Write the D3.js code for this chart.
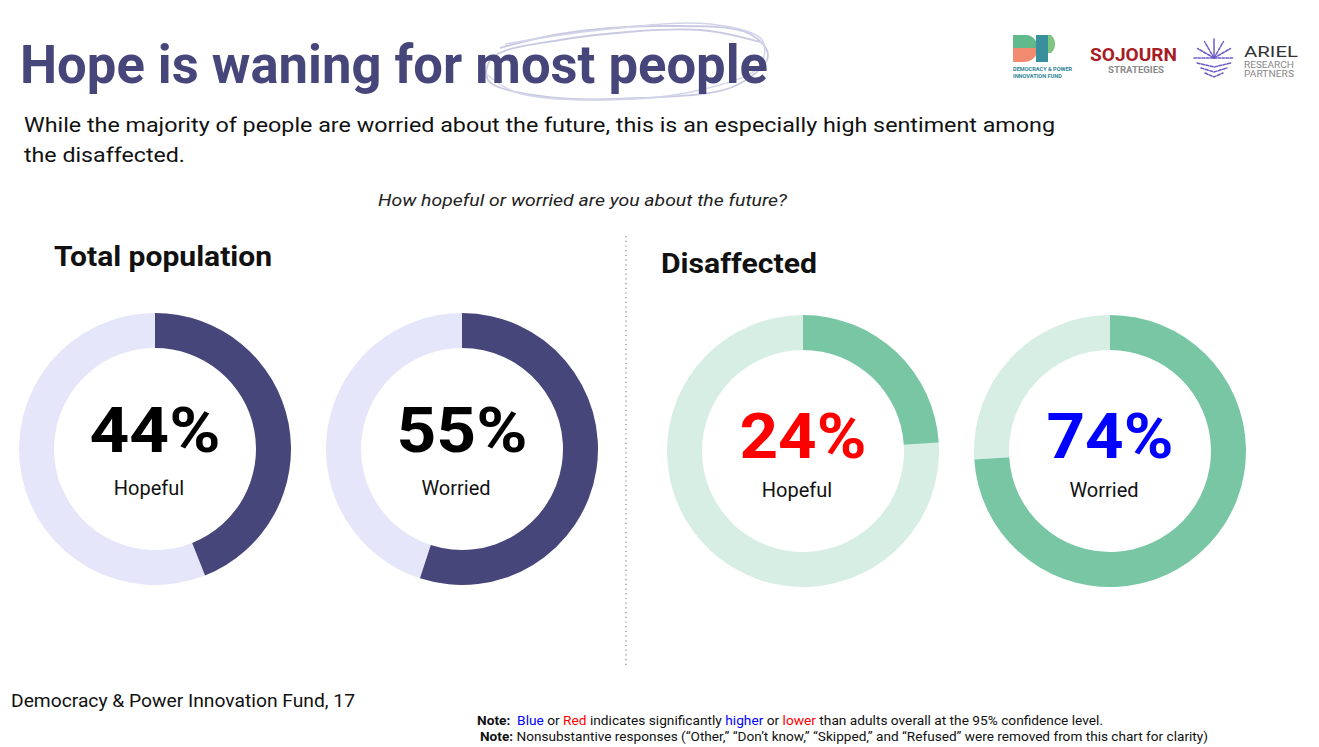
<!DOCTYPE html>
<html>
<head>
<meta charset="utf-8">
<script src="https://cdn.jsdelivr.net/npm/d3@7"></script>
<style>
  html, body { margin: 0; padding: 0; background: #fff; }
  svg { display: block; }
  text { font-family: Roboto, "Noto Sans", sans-serif; }
</style>
</head>
<body>
<div id="chart"></div>
<script>
/* Hope vs worry donuts — D3 */

const groups      = ["Total population", "Disaffected"];
const answers     = ["Hopeful", "Worried"];
const totalValues = [44, 55];
const disValues   = [24, 74];
// significance flag per value: 0 = none, 1 = higher, -1 = lower
const disSignif   = [-1, 1];

const W = 1319, H = 747;
const DARK = "#46467a", LIGHT = "#e6e6fa";
const GREEN = "#78c6a4", GREEN_LIGHT = "#d7eee5";

const svg = d3.select("#chart").append("svg")
  .attr("width", W).attr("height", H);

// fit a text element to a target width
function fit(sel, w) { sel.attr("textLength", w).attr("lengthAdjust", "spacingAndGlyphs"); return sel; }

// Title + scribble
const scribble = d3.line().curve(d3.curveCatmullRom);
const loop1 = [[500,48],[560,34],[660,26],[750,34],[768,56],[735,86],[640,98],[540,96],[488,80],[492,58],[560,40],[700,30],[760,42]];
const loop2 = [[505,44],[600,30],[710,24],[762,40],[760,66],[700,90],[600,100],[515,92],[484,72]];
svg.append("path").attr("d", scribble(loop1))
  .attr("fill", "none").attr("stroke", "#c9cae2").attr("stroke-width", 1.8);
svg.append("path").attr("d", scribble(loop2))
  .attr("fill", "none").attr("stroke", "#d3d4ea").attr("stroke-width", 1.5);

fit(svg.append("text").attr("x", 20).attr("y", 83)
  .attr("font-size", 54).attr("font-weight", 700).attr("fill", DARK)
  .text("Hope is waning for most people"), 748);

fit(svg.append("text").attr("x", 24).attr("y", 132).attr("font-size", 21).attr("fill", "#111")
  .text("While the majority of people are worried about the future, this is an especially high sentiment among"), 1031);
fit(svg.append("text").attr("x", 24).attr("y", 162).attr("font-size", 21).attr("fill", "#111")
  .text("the disaffected."), 161);

fit(svg.append("text").attr("x", 378).attr("y", 206).attr("font-size", 17)
  .attr("font-style", "italic").attr("fill", "#222")
  .text("How hopeful or worried are you about the future?"), 409);

// group headings
const headX = d3.scaleOrdinal(groups, [54, 661]);
const headY = d3.scaleOrdinal(groups, [266, 273]);
const headW = d3.scaleOrdinal(groups, [218, 156]);
groups.forEach(gname => {
  fit(svg.append("text").attr("x", headX(gname)).attr("y", headY(gname))
    .attr("font-size", 28).attr("font-weight", 700).attr("fill", "#111")
    .text(gname), headW(gname));
});

// divider
svg.append("line").attr("x1", 626).attr("x2", 626).attr("y1", 236).attr("y2", 668)
  .attr("stroke", "#888").attr("stroke-width", 1.2).attr("stroke-dasharray", "1.2,3.5");

// donuts
const rows = [
  ...answers.map((a, i) => ({ group: groups[0], answer: a, value: totalValues[i], sig: 0 })),
  ...answers.map((a, i) => ({ group: groups[1], answer: a, value: disValues[i], sig: disSignif[i] })),
];

const groupX  = d3.scaleOrdinal(groups, [155, 803]);
const groupY  = d3.scaleOrdinal(groups, [449, 451]);
const inGroup = d3.scalePoint(answers, [0, 307]);
const angle   = d3.scaleLinear([0, 100], [0, 2 * Math.PI]);
const fillOn  = d3.scaleOrdinal(groups, [DARK, GREEN]);
const fillOff = d3.scaleOrdinal(groups, [LIGHT, GREEN_LIGHT]);
const sigColor = d3.scaleOrdinal([-1, 0, 1], ["#ff0000", "#000000", "#0000ff"]);
const arc = d3.arc().innerRadius(101).outerRadius(136);

const donut = svg.append("g").selectAll("g")
  .data(rows).join("g")
  .attr("transform", d => `translate(${groupX(d.group) + inGroup(d.answer)},${groupY(d.group)})`);

donut.append("path")
  .attr("d", d => arc({ startAngle: angle(d.value), endAngle: angle(100) }))
  .attr("fill", d => fillOff(d.group));
donut.append("path")
  .attr("d", d => arc({ startAngle: 0, endAngle: angle(d.value) }))
  .attr("fill", d => fillOn(d.group));

donut.each(function(d) {
  const g = d3.select(this);
  const isTotal = d.group === groups[0];
  const t = g.append("text")
    .attr("text-anchor", "middle")
    .attr("y", isTotal ? 3 : 7)
    .attr("font-size", 63).attr("font-weight", 700)
    .attr("font-family", isTotal ? "Roboto, sans-serif" : "'Liberation Sans', Arial, sans-serif")
    .attr("fill", sigColor(d.sig))
    .text(d.value + "%");
  fit(t, isTotal ? 131 : 127);
  g.append("text")
    .attr("text-anchor", "middle")
    .attr("x", -6).attr("y", isTotal ? 495 - 449 : 497 - 451)
    .attr("font-size", 20).attr("fill", "#111")
    .text(d.answer);
});

// footer
fit(svg.append("text").attr("x", 11).attr("y", 707).attr("font-size", 18).attr("fill", "#111")
  .text("Democracy & Power Innovation Fund, 17"), 344);

const note1 = svg.append("text").attr("x", 477).attr("y", 725).attr("font-size", 13).attr("fill", "#111");
[["Note:  ", "#111", 700], ["Blue", "#0000ff", 400], [" or ", "#111", 400], ["Red", "#ff0000", 400],
 [" indicates significantly ", "#111", 400], ["higher", "#0000ff", 400], [" or ", "#111", 400],
 ["lower", "#ff0000", 400], [" than adults overall at the 95% confidence level.", "#111", 400]]
  .forEach(([s, c, w]) => note1.append("tspan").attr("fill", c).attr("font-weight", w).attr("xml:space", "preserve").text(s));
fit(note1, 626);

const note2 = svg.append("text").attr("x", 480).attr("y", 741).attr("font-size", 13).attr("fill", "#111");
note2.append("tspan").attr("font-weight", 700).text("Note: ");
note2.append("tspan").text("Nonsubstantive responses (\u201cOther,\u201d \u201cDon\u2019t know,\u201d \u201cSkipped,\u201d and \u201cRefused\u201d were removed from this chart for clarity)");
fit(note2, 728);

// logos
const logo = svg.append("g");
// DP mark
logo.append("path").attr("d", "M1013,35 H1027 A13,13 0 0 1 1038,48 H1013 Z").attr("fill", "#62b98c");
logo.append("path").attr("d", "M1013,48 H1038 A14,14 0 0 1 1024,62 H1013 Z").attr("fill", "#f28b70");
logo.append("rect").attr("x", 1036).attr("y", 35).attr("width", 12).attr("height", 27).attr("fill", "#3a8f9c");
logo.append("path").attr("d", "M1048,35 H1051 A12,12 0 0 1 1051,53 H1048 Z").attr("fill", "#7ec67f");
logo.append("text").attr("x", 1013).attr("y", 71).attr("font-size", 5.6).attr("font-weight", 700)
  .attr("fill", "#2e8596").text("DEMOCRACY & POWER");
logo.append("text").attr("x", 1013).attr("y", 78).attr("font-size", 5.6).attr("font-weight", 700)
  .attr("fill", "#2e8596").text("INNOVATION FUND");
// Sojourn
fit(logo.append("text").attr("x", 1090).attr("y", 61).attr("font-size", 19).attr("font-weight", 700)
  .attr("fill", "#a61d26").text("SOJOURN"), 87);
fit(logo.append("text").attr("x", 1108).attr("y", 73).attr("font-size", 9).attr("font-weight", 700)
  .attr("fill", "#8a8a8a").text("STRATEGIES"), 56);
// Ariel snowflake
const flake = logo.append("g").attr("transform", "translate(1214,58)")
  .attr("stroke", "#6d5cc6").attr("stroke-width", 1.5).attr("fill", "none")
  .attr("stroke-linecap", "round");
flake.append("line").attr("x1", -20).attr("x2", 20).attr("y1", 0).attr("y2", 0)
  .attr("stroke-dasharray", "2.5,1.5");
[-150, -120, -90, -60, -30].forEach(a => {
  const rad = a * Math.PI / 180;
  flake.append("line").attr("x1", 0).attr("y1", 0)
    .attr("x2", 19 * Math.cos(rad)).attr("y2", 19 * Math.sin(rad))
    .attr("stroke-dasharray", a === -90 ? null : "3,1.5");
});
[5, 10, 15].forEach((y, i) => {
  const hw = 17 - i * 4;
  flake.append("path").attr("d", `M${-hw},${y} L0,${y + 4} L${hw},${y}`)
    .attr("stroke-dasharray", "3,1.5");
});
fit(logo.append("text").attr("x", 1244).attr("y", 57).attr("font-size", 15)
  .attr("fill", "#333").text("ARIEL"), 54);
fit(logo.append("text").attr("x", 1244).attr("y", 68).attr("font-size", 9)
  .attr("fill", "#888").text("RESEARCH"), 50);
fit(logo.append("text").attr("x", 1244).attr("y", 77).attr("font-size", 9)
  .attr("fill", "#888").text("PARTNERS"), 50);
</script>
</body>
</html>
